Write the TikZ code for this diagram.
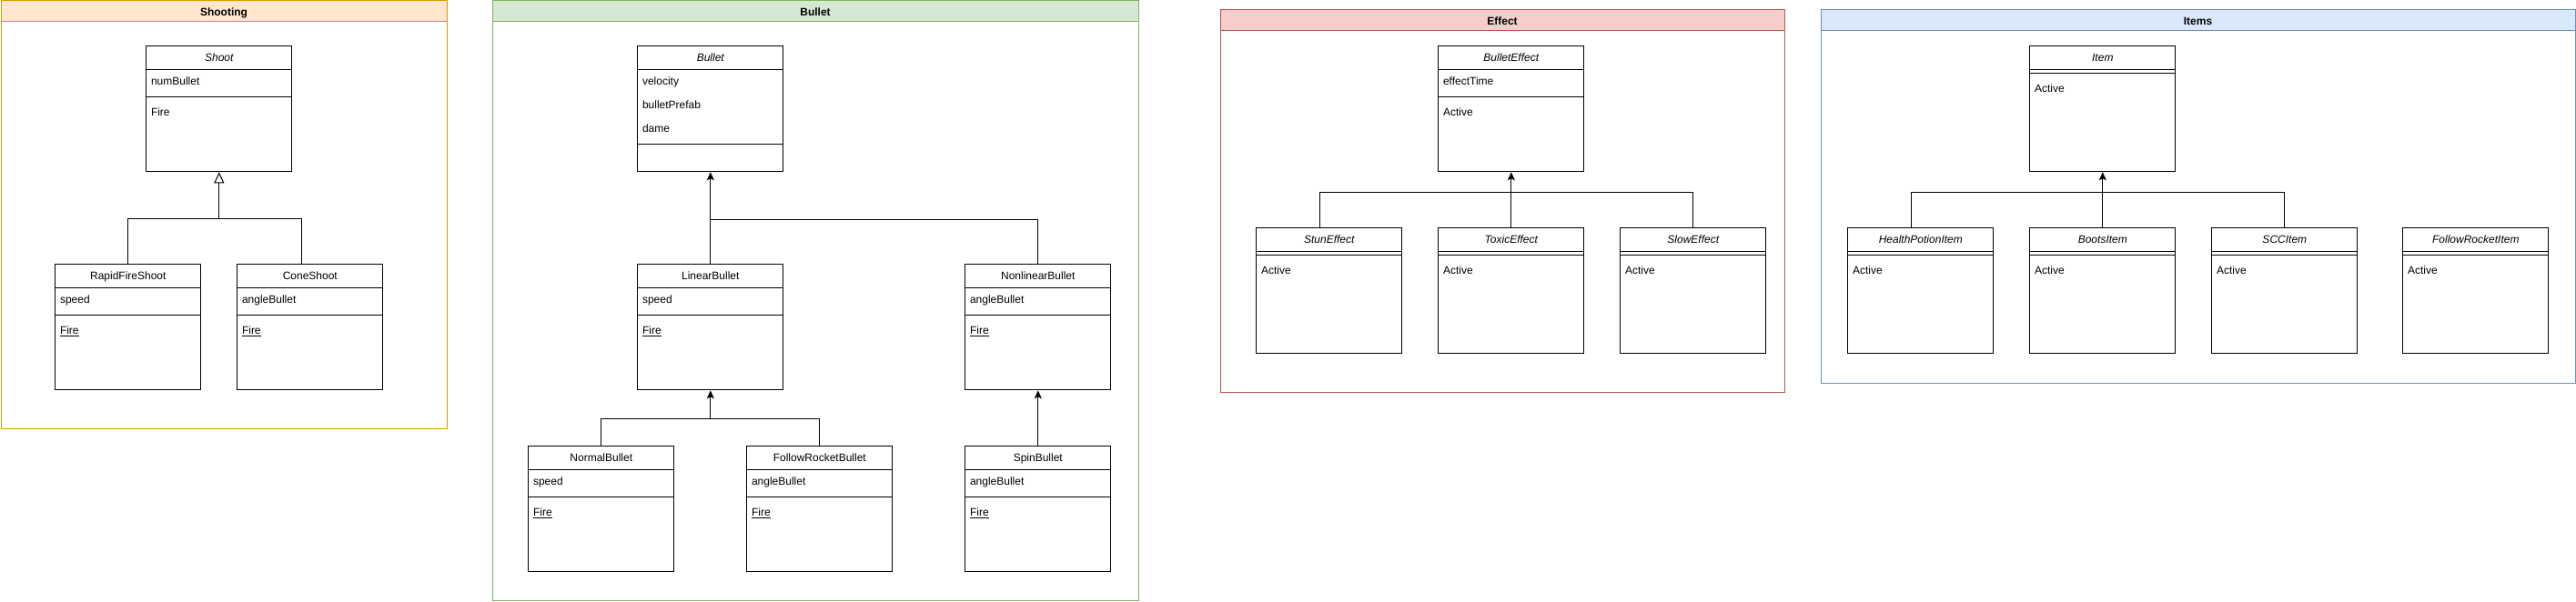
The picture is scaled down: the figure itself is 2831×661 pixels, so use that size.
\documentclass[tikz,border=0pt]{standalone}
\usepackage{fontspec}
\setmainfont{Liberation Sans}
\usetikzlibrary{arrows.meta,calc}
\definecolor{orfill}{HTML}{FFE6CC}\definecolor{orline}{HTML}{D79B00}
\definecolor{grfill}{HTML}{D5E8D4}\definecolor{grline}{HTML}{82B366}
\definecolor{rdfill}{HTML}{F8CECC}\definecolor{rdline}{HTML}{B85450}
\definecolor{blfill}{HTML}{DAE8FC}\definecolor{blline}{HTML}{6C8EBF}
% container: name, x, y, w, h, colour prefix, title
\newcommand{\lane}[7]{%
  \node[draw=#6line, line width=1pt, minimum width=#4pt, minimum height=#5pt, anchor=north west, inner sep=0pt] (#1) at (#2,#3) {};
  \node[draw=#6line, fill=#6fill, line width=1pt, minimum width=#4pt, minimum height=23pt, anchor=north west, inner sep=0pt] (#1T) at (#2,#3) {};
  \node[lanetitle] (#1L) at ($(#1T.north)+(0,17)$) {#7};
}
% class box: name, x, y, title
\newcommand{\cls}[4]{%
  \node[classbox] (#1) at (#2,#3) {};
  \draw[line width=1pt] ($(#1.north west)+(0,26)$) -- ($(#1.north east)+(0,26)$);
  \node[ctitle] (#1N) at ($(#1.north)+(0,17.5)$) {#4};
}
\newcommand{\mem}[4]{\node[member] (#1#2) at ($(#1.north west)+(5.5,#3+4.5)$) {#4};}
\newcommand{\sepl}[2]{\draw[line width=1pt] ($(#1.north west)+(0,#2)$) -- ($(#1.north east)+(0,#2)$);}
\begin{document}
\begin{tikzpicture}[x=1pt,y=-1pt, font=\fontsize{12}{14}\selectfont,
  classbox/.style={draw, line width=1pt, rectangle, minimum width=160pt, minimum height=138pt, anchor=north west, inner sep=0pt, fill=white},
  ctitle/.style={inner sep=0pt, anchor=base},
  member/.style={inner sep=0pt, anchor=base west},
  lanetitle/.style={inner sep=0pt, anchor=base, font=\fontsize{12}{14}\selectfont\bfseries},
  conn/.style={line width=1pt},
  inh/.style={conn, -{Triangle[open, length=12pt, width=11pt, fill=white]}},
  ext/.style={conn, -{Stealth[length=9pt, width=8pt, inset=2pt]}}
]
\useasboundingbox (0,0) rectangle (2831,661);
\fill[white] (0,0) rectangle (2831,661);

% ---------- containers
\lane{laneShooting}{0.5}{0.5}{490}{470}{or}{Shooting}
\lane{laneBullet}{540.5}{0.5}{710}{659.5}{gr}{Bullet}
\lane{laneEffect}{1340.5}{10.5}{620}{420}{rd}{Effect}
\lane{laneItems}{2000.5}{10.5}{829}{410}{bl}{Items}

% ---------- Shooting
\cls{Shoot}{160.3}{50.3}{\itshape Shoot}
\mem{Shoot}{a}{39}{numBullet}
\sepl{Shoot}{56}
\mem{Shoot}{m}{73}{Fire}

\cls{RapidFireShoot}{60.3}{290.3}{RapidFireShoot}
\mem{RapidFireShoot}{a}{39}{speed}
\sepl{RapidFireShoot}{56}
\mem{RapidFireShoot}{m}{73}{\underline{Fire}}

\cls{ConeShoot}{260.3}{290.3}{ConeShoot}
\mem{ConeShoot}{a}{39}{angleBullet}
\sepl{ConeShoot}{56}
\mem{ConeShoot}{m}{73}{\underline{Fire}}

% ---------- Bullet
\cls{Bullet}{700.3}{50.3}{\itshape Bullet}
\mem{Bullet}{a}{39}{velocity}
\mem{Bullet}{b}{65}{bulletPrefab}
\mem{Bullet}{c}{91}{dame}
\sepl{Bullet}{108}

\cls{LinearBullet}{700.3}{290.3}{LinearBullet}
\mem{LinearBullet}{a}{39}{speed}
\sepl{LinearBullet}{56}
\mem{LinearBullet}{m}{73}{\underline{Fire}}

\cls{NonlinearBullet}{1060.3}{290.3}{NonlinearBullet}
\mem{NonlinearBullet}{a}{39}{angleBullet}
\sepl{NonlinearBullet}{56}
\mem{NonlinearBullet}{m}{73}{\underline{Fire}}

\cls{NormalBullet}{580.3}{490.3}{NormalBullet}
\mem{NormalBullet}{a}{39}{speed}
\sepl{NormalBullet}{56}
\mem{NormalBullet}{m}{73}{\underline{Fire}}

\cls{FollowRocketBullet}{820.3}{490.3}{FollowRocketBullet}
\mem{FollowRocketBullet}{a}{39}{angleBullet}
\sepl{FollowRocketBullet}{56}
\mem{FollowRocketBullet}{m}{73}{\underline{Fire}}

\cls{SpinBullet}{1060.3}{490.3}{SpinBullet}
\mem{SpinBullet}{a}{39}{angleBullet}
\sepl{SpinBullet}{56}
\mem{SpinBullet}{m}{73}{\underline{Fire}}

% ---------- Effect
\cls{BulletEffect}{1580.3}{50.3}{\itshape BulletEffect}
\mem{BulletEffect}{a}{39}{effectTime}
\sepl{BulletEffect}{56}
\mem{BulletEffect}{m}{73}{Active}

\cls{StunEffect}{1380.3}{250.3}{\itshape StunEffect}
\sepl{StunEffect}{30}
\mem{StunEffect}{m}{47}{Active}

\cls{ToxicEffect}{1580.3}{250.3}{\itshape ToxicEffect}
\sepl{ToxicEffect}{30}
\mem{ToxicEffect}{m}{47}{Active}

\cls{SlowEffect}{1780.3}{250.3}{\itshape SlowEffect}
\sepl{SlowEffect}{30}
\mem{SlowEffect}{m}{47}{Active}

% ---------- Items
\cls{Item}{2230.3}{50.3}{\itshape Item}
\sepl{Item}{30}
\mem{Item}{m}{47}{Active}

\cls{HealthPotionItem}{2030.3}{250.3}{\itshape HealthPotionItem}
\sepl{HealthPotionItem}{30}
\mem{HealthPotionItem}{m}{47}{Active}

\cls{BootsItem}{2230.3}{250.3}{\itshape BootsItem}
\sepl{BootsItem}{30}
\mem{BootsItem}{m}{47}{Active}

\cls{SCCItem}{2430.3}{250.3}{\itshape SCCItem}
\sepl{SCCItem}{30}
\mem{SCCItem}{m}{47}{Active}

\cls{FollowRocketItem}{2640.3}{250.3}{\itshape FollowRocketItem}
\sepl{FollowRocketItem}{30}
\mem{FollowRocketItem}{m}{47}{Active}

% ---------- connectors
\coordinate (busS) at ($(Shoot.south)+(0,51.2)$);
\draw[conn] (RapidFireShoot.north) |- (busS);
\draw[conn] ($(ConeShoot.north west)+(70.7,0)$) |- (busS);
\draw[inh] (busS) -- (Shoot.south);

\coordinate (busB) at ($(Bullet.south)+(0,51.7)$);
\draw[conn] (NonlinearBullet.north) |- (busB);
\draw[ext] (LinearBullet.north) -- (Bullet.south);

\coordinate (busL) at ($(LinearBullet.south)+(0,31)$);
\draw[conn] (NormalBullet.north) |- (busL);
\draw[conn] (FollowRocketBullet.north) |- (busL);
\draw[ext] (busL) -- (LinearBullet.south);
\draw[ext] (SpinBullet.north) -- (NonlinearBullet.south);

\coordinate (busE) at ($(BulletEffect.south)+(0,22)$);
\draw[conn] ($(StunEffect.north)+(-10,0)$) |- (busE);
\draw[conn] (SlowEffect.north) |- (busE);
\draw[ext] (ToxicEffect.north) -- (BulletEffect.south);

\coordinate (busI) at ($(Item.south)+(0,22)$);
\draw[conn] ($(HealthPotionItem.north)+(-10,0)$) |- (busI);
\draw[conn] (SCCItem.north) |- (busI);
\draw[ext] (BootsItem.north) -- (Item.south);
\end{tikzpicture}
\end{document}
